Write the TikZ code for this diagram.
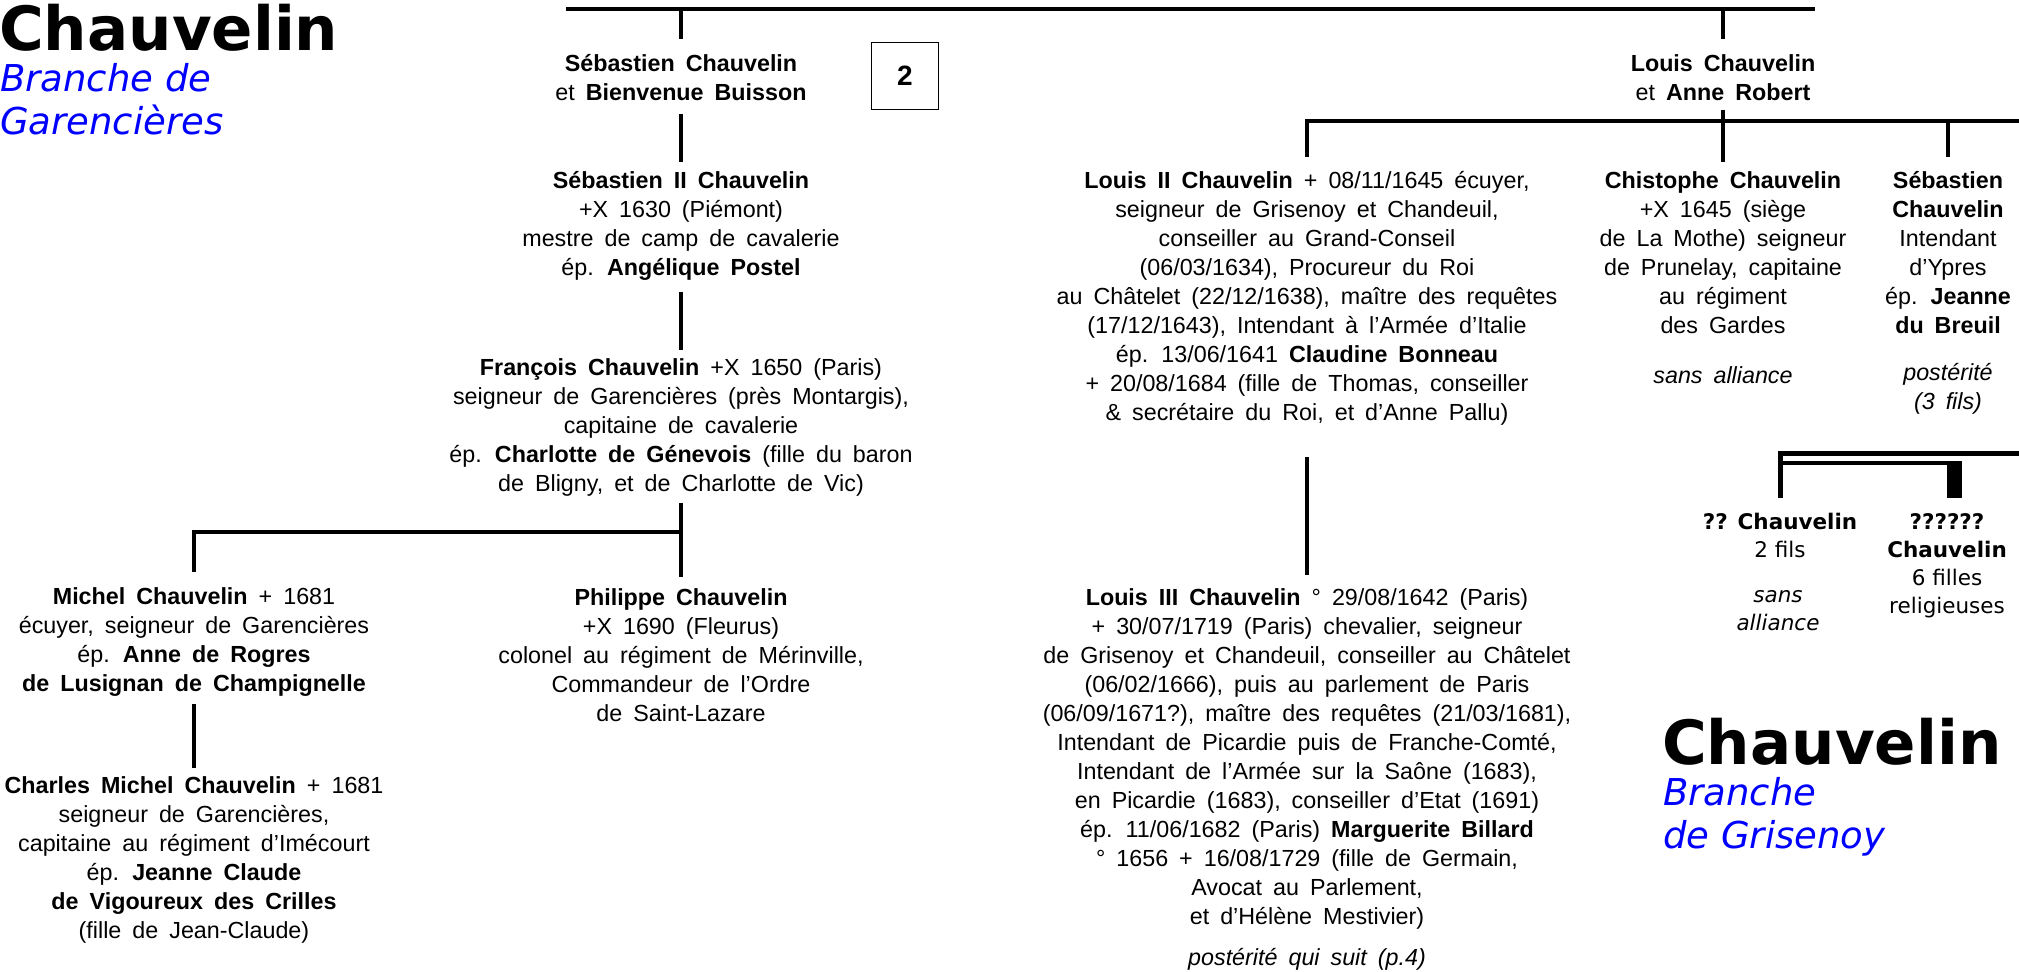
\documentclass[tikz,border=0pt]{standalone}
\usepackage{fontspec}
\setmainfont{Liberation Sans}[WordSpace=1.7]
\newfontfamily\bannerfont{DejaVu Sans}
\usepackage{tikz}
\usetikzlibrary{positioning,calc}
\definecolor{branchblue}{RGB}{0,0,255}

\begin{document}
\begin{tikzpicture}[x=1pt,y=-1pt]
    \newcommand{\linegap}[0]{ 9pt }
    \tikzstyle{edge}  = [line width=3.2pt,draw=black]
    \tikzstyle{heavyedge} = [line width=5pt,draw=black]
    \tikzstyle{person}=[
      align=center,
      anchor=north,
      inner sep=0pt,
      font=\fontsize{23.3}{29}\selectfont,
      execute at begin node=\strut,
      execute at end node=\strut
    ]
    \tikzstyle{smallperson}=[
      person,
      font=\bannerfont\fontsize{21.5}{28}\selectfont
    ]
    \tikzstyle{family}=[
      anchor=base west,
      inner sep=0pt,
      font=\bannerfont\bfseries\fontsize{61}{70}\selectfont
    ]
    \tikzstyle{branch}=[
      align=left,
      anchor=north west,
      inner sep=0pt,
      text=branchblue,
      font=\bannerfont\itshape\fontsize{37}{43}\selectfont,
      execute at begin node=\strut
    ]

    \useasboundingbox (0,0) rectangle (2019,972);
    \fill[white] (0,0) rectangle (2019,972);

    % titles
    \node[family] (title left) at (-1,50) {Chauvelin};
    \node[branch] (branch left) at (0,63) {Branche de\\Garencières};
    \node[family] (title right) at (1662,764) {Chauvelin};
    \node[branch] (branch right) at (1663,777) {Branche\\de Grisenoy};

    % page mark
    \node[draw,line width=1.2pt,minimum size=67pt,inner sep=0pt,
      font=\fontsize{28}{32}\selectfont\bfseries] (page) at (905,76) {2};

    % Garencieres side
    \node[person] (sebc) at (681,54) {\textbf{Sébastien Chauvelin}\\et \textbf{Bienvenue Buisson}};
    \node[person] (sebII) at (681,171) {\textbf{Sébastien II Chauvelin}\\+X 1630 (Piémont)\\mestre de camp de cavalerie\\ép. \textbf{Angélique Postel}};
    \node[person] (francois) at (681,358) {\textbf{François Chauvelin} +X 1650 (Paris)\\seigneur de Garencières (près Montargis),\\capitaine de cavalerie\\ép. \textbf{Charlotte de Génevois} (fille du baron\\de Bligny, et de Charlotte de Vic)};
    \node[person] (michel) at (194,587) {\textbf{Michel Chauvelin} + 1681\\écuyer, seigneur de Garencières\\ép. \textbf{Anne de Rogres}\\\textbf{de Lusignan de Champignelle}};
    \node[person] (philippe) at (681,588) {\textbf{Philippe Chauvelin}\\+X 1690 (Fleurus)\\colonel au régiment de Mérinville,\\Commandeur de l’Ordre\\de Saint-Lazare};
    \node[person] (charles) at (194,776) {\textbf{Charles Michel Chauvelin} + 1681\\seigneur de Garencières,\\capitaine au régiment d’Imécourt\\ép. \textbf{Jeanne Claude}\\\textbf{de Vigoureux des Crilles}\\(fille de Jean-Claude)};

    % Grisenoy side
    \node[person] (louisc) at (1723,54) {\textbf{Louis Chauvelin}\\et \textbf{Anne Robert}};
    \node[person] (louisII) at (1307,171) {\textbf{Louis II Chauvelin} + 08/11/1645 écuyer,\\seigneur de Grisenoy et Chandeuil,\\conseiller au Grand-Conseil\\(06/03/1634), Procureur du Roi\\au Châtelet (22/12/1638), maître des requêtes\\(17/12/1643), Intendant à l’Armée d’Italie\\ép. 13/06/1641 \textbf{Claudine Bonneau}\\+ 20/08/1684 (fille de Thomas, conseiller\\\& secrétaire du Roi, et d’Anne Pallu)};
    \node[person] (christophe) at (1723,171) {\textbf{Chistophe Chauvelin}\\+X 1645 (siège\\de La Mothe) seigneur\\de Prunelay, capitaine\\au régiment\\des Gardes};
    \node[person] (christophe note) at (1723,363) {\textit{sans alliance}};
    \node[person] (sebR) at (1948,171) {\textbf{Sébastien}\\\textbf{Chauvelin}\\Intendant\\d’Ypres\\ép. \textbf{Jeanne}\\\textbf{du Breuil}};
    \node[person] (sebR note) at (1948,363) {\textit{postérité}\\\textit{(3 fils)}};
    \node[person] (louisIII) at (1307,588) {\textbf{Louis III Chauvelin} ° 29/08/1642 (Paris)\\+ 30/07/1719 (Paris) chevalier, seigneur\\de Grisenoy et Chandeuil, conseiller au Châtelet\\(06/02/1666), puis au parlement de Paris\\(06/09/1671?), maître des requêtes (21/03/1681),\\Intendant de Picardie puis de Franche-Comté,\\Intendant de l’Armée sur la Saône (1683),\\en Picardie (1683), conseiller d’Etat (1691)\\ép. 11/06/1682 (Paris) \textbf{Marguerite Billard}\\° 1656 + 16/08/1729 (fille de Germain,\\Avocat au Parlement,\\et d’Hélène Mestivier)};
    \node[person] (louisIII note) at (1307,945) {\textit{postérité qui suit (p.4)}};
    \node[smallperson] (qq) at (1780,513) {\textbf{?? Chauvelin}\\2 fils};
    \node[smallperson] (qq note) at (1778,590) {\textit{sans}\\\textit{alliance}};
    \node[smallperson] (qqq) at (1947,513) {\textbf{??????}\\\textbf{Chauvelin}\\6 filles\\religieuses};

    % connectors
    \coordinate (top bar west) at (566,9);
    \coordinate (top bar east) at (1815,9);
    \draw[edge] (top bar west) -- (top bar east);
    \draw[edge] (sebc.north |- top bar west) -- ([yshift=15pt]sebc.north);
    \draw[edge] (louisc.north |- top bar west) -- ([yshift=15pt]louisc.north);

    \draw[edge] ([yshift=-5pt]sebc.south) -- ([yshift=\linegap]sebII.north);
    \draw[edge] ([yshift=-8pt]sebII.south) -- ([yshift=8pt]francois.north);
    \coordinate (garenc bar) at (194,532);
    \draw[edge] ([yshift=-3pt]francois.south) -- ([yshift=11pt]philippe.north);
    \draw[edge] ([xshift=-1.6pt]garenc bar) -- (garenc bar -| philippe.north);
    \draw[edge] (garenc bar) -- ([yshift=15pt]michel.north);
    \draw[edge] ([yshift=-4pt]michel.south) -- ([yshift=8pt]charles.north);

    \coordinate (grisenoy bar east) at (2019,121);
    \draw[edge] ([yshift=-1pt]louisc.south) -- ([yshift=\linegap]christophe.north);
    \draw[edge] ([xshift=-1.6pt]louisII.north |- grisenoy bar east) -- (grisenoy bar east);
    \draw[edge] (louisII.north |- grisenoy bar east) -- ([yshift=14pt]louisII.north);
    \draw[edge] (sebR.north |- grisenoy bar east) -- ([yshift=14pt]sebR.north);
    \draw[edge] ([yshift=-28pt]louisII.south) -- ([yshift=13pt]louisIII.north);

    \coordinate (fils bar east) at (2019,453);
    \coordinate (filles bar) at (1962,463);
    \draw[heavyedge] ([yshift=15pt]qq.north) |- (fils bar east);
    \draw[edge] (qq.north |- filles bar) -- (filles bar);
    \fill (qqq.north |- filles bar) rectangle ([xshift=15pt,yshift=15pt]qqq.north);
\end{tikzpicture}
\end{document}
